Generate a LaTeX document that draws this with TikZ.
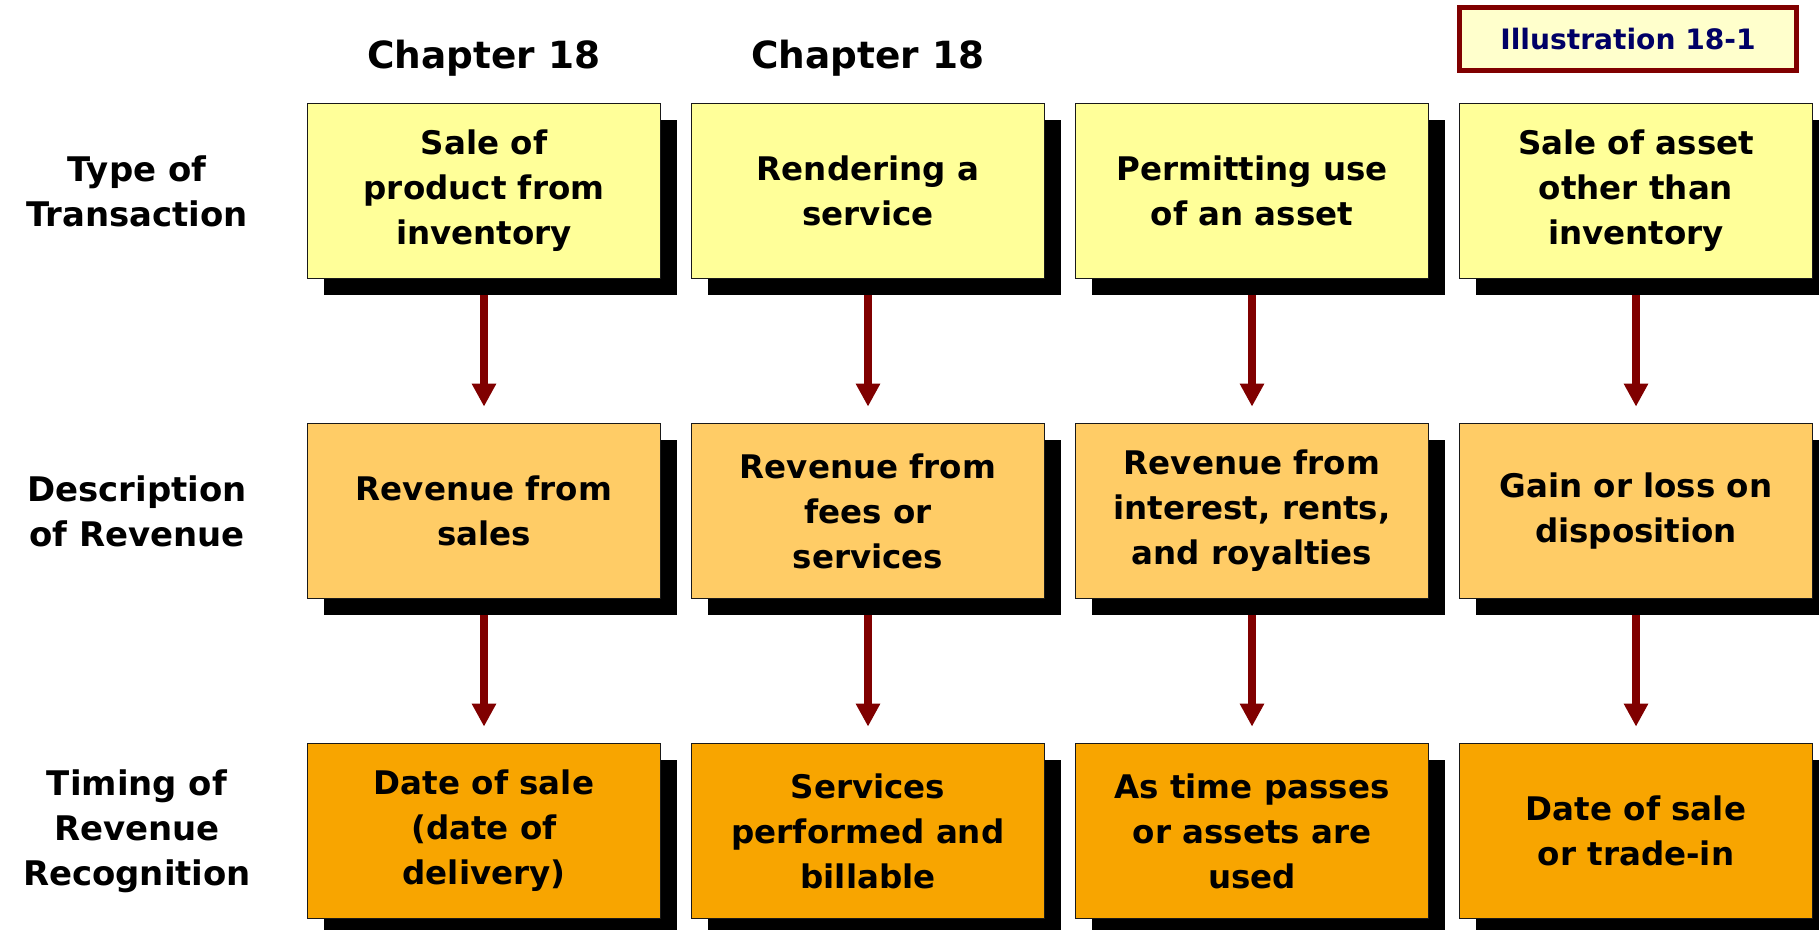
\documentclass[tikz,border=0pt]{standalone}
\usepackage{fontspec}
\setmainfont{DejaVu Sans}
\usetikzlibrary{shapes.geometric, arrows.meta, shadows}
\definecolor{typefill}{HTML}{FFFF99}
\definecolor{descfill}{HTML}{FFCC66}
\definecolor{timefill}{HTML}{F8A500}
\definecolor{arrowred}{HTML}{800000}
\definecolor{illusfill}{HTML}{FFFFCC}
\definecolor{illustext}{HTML}{000066}
\tikzstyle{entry} = [
	rectangle,
	minimum width=7.06cm,
	minimum height=3.5cm,
	text centered,
	align=center,
	draw=black!90,
	line width=1pt,
	font=\bfseries\fontsize{18.5}{25.6}\selectfont,
	drop shadow={shadow xshift=0.32cm, shadow yshift=-0.32cm, fill=black, opacity=1}
]
\tikzstyle{typebox} = [entry, fill=typefill]
\tikzstyle{descbox} = [entry, fill=descfill]
\tikzstyle{timebox} = [entry, fill=timefill]
\tikzstyle{rowlabel} = [
	align=center,
	font=\bfseries\fontsize{19.3}{25.6}\selectfont
]
\tikzstyle{chapterlabel} = [
	align=center,
	font=\bfseries\fontsize{21.3}{25.6}\selectfont
]
\tikzstyle{illusbox} = [
	rectangle,
	minimum width=6.74cm,
	minimum height=1.26cm,
	text centered,
	draw=arrowred,
	line width=0.1cm,
	fill=illusfill,
	text=illustext,
	font=\bfseries\fontsize{16}{19}\selectfont
]
\tikzstyle{arrow} = [
	draw=arrowred,
	line width=4.4pt,
	-{Triangle[width=0.46cm, length=0.46cm]},
	shorten <=0.32cm,
	shorten >=0.32cm
]

\begin{document}
\begin{tikzpicture}[node distance=6.4cm]
        \useasboundingbox (0,0) rectangle (36.38,-18.58);
        % type of transaction
        \node (sale) [typebox] at (9.68,-3.82) {Sale of\\product from\\inventory};
        \node (service) [typebox, right of=sale, xshift=1.28cm] {Rendering a\\service};
        \node (permit) [typebox, right of=service, xshift=1.28cm] {Permitting use\\of an asset};
        \node (assetsale) [typebox, right of=permit, xshift=1.28cm] {Sale of asset\\other than\\inventory};
        % description of revenue
        \node (revsales) [descbox, below of=sale] {Revenue from\\sales};
        \node (revfees) [descbox, below of=service] {Revenue from\\fees or\\services};
        \node (revinterest) [descbox, below of=permit] {Revenue from\\interest, rents,\\and royalties};
        \node (gain) [descbox, below of=assetsale] {Gain or loss on\\disposition};
        % timing of recognition
        \node (datesale) [timebox, below of=revsales] {Date of sale\\(date of\\delivery)};
        \node (performed) [timebox, below of=revfees] {Services\\performed and\\billable};
        \node (timepasses) [timebox, below of=revinterest] {As time passes\\or assets are\\used};
        \node (tradein) [timebox, below of=gain] {Date of sale\\or trade-in};
        % row and column labels
        \node (typelabel) [rowlabel, left of=sale, xshift=-0.54cm] {Type of\\Transaction};
        \node (desclabel) [rowlabel, left of=revsales, xshift=-0.54cm] {Description\\of Revenue};
        \node (timinglabel) [rowlabel, left of=datesale, xshift=-0.54cm] {Timing of\\Revenue\\Recognition};
        \node (chapsale) [chapterlabel, node distance=2.66cm, above of=sale] {Chapter 18};
        \node (chapservice) [chapterlabel, node distance=2.66cm, above of=service] {Chapter 18};
        \node (illus) [illusbox] at (32.56,-0.78) {Illustration 18-1};
        % arrows down each column
        \draw [arrow] (sale) -- (revsales);
        \draw [arrow] (service) -- (revfees);
        \draw [arrow] (permit) -- (revinterest);
        \draw [arrow] (assetsale) -- (gain);
        \draw [arrow] (revsales) -- (datesale);
        \draw [arrow] (revfees) -- (performed);
        \draw [arrow] (revinterest) -- (timepasses);
        \draw [arrow] (gain) -- (tradein);
      \end{tikzpicture}
\end{document}
